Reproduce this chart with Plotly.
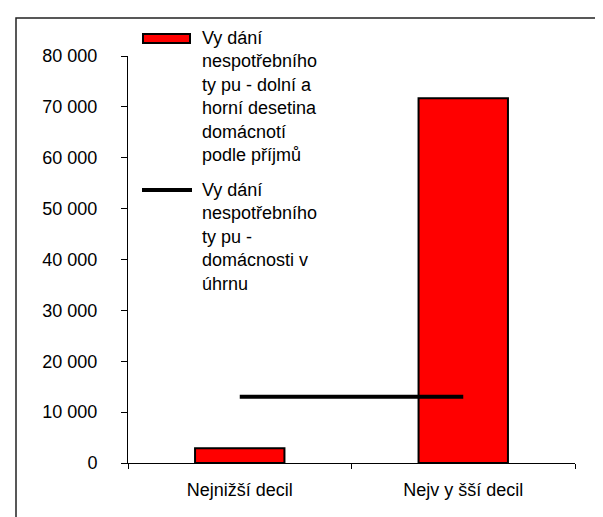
import plotly.graph_objects as go

# data
categories = ["Nejnižší decil", "Nejv y šší decil"]
decile_spend = [2900, 71700]          # bars: lowest / highest income decile
all_households = [13000, 13000]       # line: households overall
y_ticks = [0, 10000, 20000, 30000, 40000, 50000, 60000, 70000, 80000]

bar_name = "Vy dání<br>nespotřebního<br>ty pu - dolní a<br>horní desetina<br>domácnotí<br>podle příjmů"
line_name = "Vy dání<br>nespotřebního<br>ty pu -<br>domácnosti v<br>úhrnu"

W, H = 603, 517
L, R, T, B = 120, 36, 48, 62
pw, ph = W - L - R, H - T - B

def px(x):
    return (x - L) / pw

def py(y):
    return (H - B - y) / ph

font = dict(family="Liberation Sans, Arial, sans-serif", size=18, color="black")

fig = go.Figure()
fig.add_trace(go.Bar(x=categories, y=decile_spend, width=0.4,
                     marker=dict(color="#ff0000", line=dict(color="black", width=2)),
                     showlegend=False))
fig.add_trace(go.Scatter(x=categories, y=all_households, mode="lines",
                         line=dict(color="black", width=4), showlegend=False))

# legend drawn by hand: wide swatch + wrapped text
fig.add_shape(type="rect", xref="paper", yref="paper",
              x0=px(135), x1=px(182), y0=py(26), y1=py(35),
              fillcolor="#ff0000", line=dict(color="black", width=2))
fig.add_shape(type="line", xref="paper", yref="paper",
              x0=px(134), x1=px(184), y0=py(182), y1=py(182),
              line=dict(color="black", width=4))
fig.add_annotation(xref="paper", yref="paper", x=px(192), y=py(18),
                   text=bar_name, showarrow=False, xanchor="left", yanchor="top",
                   align="left", font=font)
fig.add_annotation(xref="paper", yref="paper", x=px(192), y=py(170),
                   text=line_name, showarrow=False, xanchor="left", yanchor="top",
                   align="left", font=font)

# outer frame (cut by the picture edges on right and bottom)
fig.add_shape(type="rect", xref="paper", yref="paper",
              x0=px(8), x1=px(620), y0=py(10), y1=py(540),
              line=dict(color="#222222", width=1.5), layer="below")

fig.update_layout(
    width=W, height=H,
    margin=dict(l=L, r=R, t=T, b=B),
    paper_bgcolor="white", plot_bgcolor="white",
    font=font, separators=", ", showlegend=False,
)
fig.update_xaxes(range=[-0.5, 1.5], showline=True, linecolor="black", linewidth=1,
                 ticks="outside", tickson="boundaries", ticklen=5, tickcolor="black",
                 showgrid=False, ticklabelstandoff=10)
fig.update_yaxes(range=[0, 80000], tickvals=y_ticks, tickformat=",d",
                 showline=True, linecolor="black", linewidth=1,
                 ticks="outside", ticklen=6, tickcolor="black",
                 showgrid=False, zeroline=False, ticklabelstandoff=20)

fig.write_html("out.html")
